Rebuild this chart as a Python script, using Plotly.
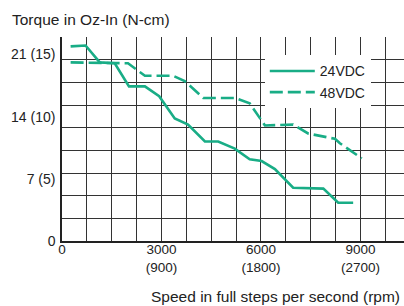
import plotly.graph_objects as go

# Data
speed_24 = [260, 710, 1140, 1590, 2020, 2500, 2930, 3400, 3800, 4310, 4710, 5210,
            5660, 6020, 6420, 6970, 7880, 8330, 8780]
torque_24 = [21.9, 22.0, 20.1, 20.0, 17.4, 17.4, 16.3, 13.8, 13.1, 11.2, 11.2, 10.4,
             9.2, 9.0, 8.1, 6.0, 5.9, 4.3, 4.3]
speed_48 = [260, 1990, 2500, 3350, 3700, 4260, 5210, 5660, 6120, 6970, 7420, 8230,
            8380, 9040]
torque_48 = [20.1, 20.0, 18.6, 18.6, 18.0, 16.1, 16.1, 15.5, 13.0, 13.1, 12.1, 11.5,
             11.0, 9.3]

x_tickvals = [0, 3000, 6000, 9000]
x_ticktext = ["0", "3000<br>(900)", "6000<br>(1800)", "9000<br>(2700)"]
y_tickvals = [0, 7, 14, 21]
y_ticktext = ["0", "7 (5)", "14 (10)", "21 (15)"]

X_MAX = 10313
Y_MAX = 22.96
GREEN = "#19ad86"
GRID = "#333333"
TXT = "#222222"
FONT = "Liberation Sans, Arial, sans-serif"

fig = go.Figure()
fig.add_trace(go.Scatter(x=speed_24, y=torque_24, mode="lines", name="24VDC",
                         line=dict(color=GREEN, width=2.6)))
fig.add_trace(go.Scatter(x=speed_48, y=torque_48, mode="lines", name="48VDC",
                         line=dict(color=GREEN, width=2.6, dash="13px,5px")))

fig.update_layout(
    width=404, height=306,
    margin=dict(l=62, r=0, t=37, b=65, autoexpand=False),
    paper_bgcolor="white", plot_bgcolor="white",
    font=dict(family=FONT, size=14, color=TXT),
    showlegend=True,
    legend=dict(x=0.593, y=0.91, xanchor="left", yanchor="top",
                bgcolor="white", borderwidth=0, font=dict(size=14, color=TXT),
                itemwidth=45, tracegroupgap=0),
    xaxis=dict(range=[0, X_MAX], tickmode="array", tickvals=x_tickvals,
               ticktext=x_ticktext, ticks="", showgrid=True, gridcolor=GRID,
               gridwidth=1.2, zeroline=False, showline=True, linecolor=TXT,
               linewidth=1.5, automargin=False, ticklabelstandoff=-5,
               tickfont=dict(size=13.5),
               minor=dict(tickmode="linear", tick0=0, dtick=750, showgrid=True,
                          gridcolor=GRID, gridwidth=1.2, ticks="")),
    yaxis=dict(range=[0, Y_MAX], tickmode="array", tickvals=y_tickvals,
               ticktext=y_ticktext, ticks="", showgrid=False, zeroline=False,
               showline=True, linecolor=TXT, linewidth=1.5, ticklabelstandoff=2,
               automargin=False,
               minor=dict(tickmode="linear", tick0=0, dtick=Y_MAX / 9, showgrid=True,
                          gridcolor=GRID, gridwidth=1.2, ticks="")),
    annotations=[
        dict(text="Torque in Oz-In (N-cm)", xref="paper", yref="paper",
             x=-0.153, y=1.085, xanchor="left", yanchor="middle", showarrow=False,
             font=dict(size=15.5, color=TXT)),
        dict(text="Speed in full steps per second (rpm)", xref="paper", yref="paper",
             x=0.993, y=-0.27, xanchor="right", yanchor="middle", showarrow=False,
             font=dict(size=15.5, color=TXT)),
    ],
)

fig.write_html("out.html", config={"displayModeBar": False},
               post_script="document.body.style.margin='0';")
